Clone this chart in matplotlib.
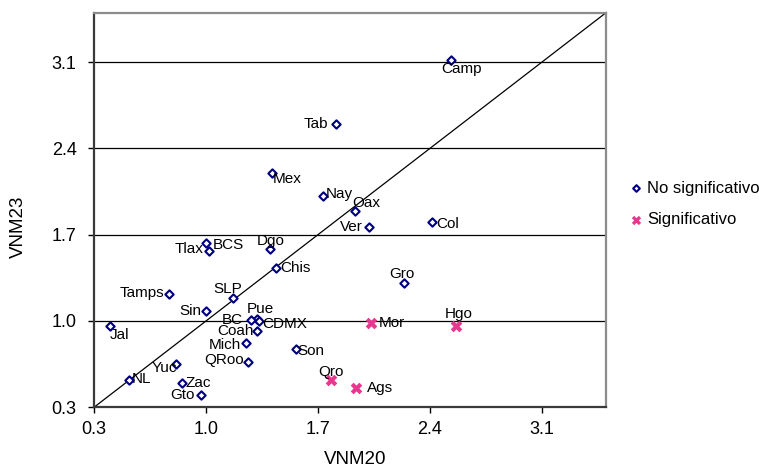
import matplotlib
matplotlib.use("Agg")
import matplotlib.pyplot as plt

plt.rcParams['font.family'] = ['Liberation Sans', 'DejaVu Sans']

# ---- data ----
ns_names = ["Camp", "Tab", "Mex", "Nay", "Oax", "Ver", "Col", "Gro", "Dgo", "Chis",
            "Tlax", "BCS", "Tamps", "SLP", "Sin", "Jal", "Pue", "BC", "CDMX", "Coah",
            "Mich", "QRoo", "Son", "Yuc", "NL", "Zac", "Gto"]
ns_x = [2.53, 1.81, 1.41, 1.73, 1.93, 2.02, 2.41, 2.24, 1.40, 1.44,
        1.02, 1.00, 0.77, 1.17, 1.00, 0.40, 1.32, 1.28, 1.33, 1.32,
        1.25, 1.26, 1.56, 0.81, 0.52, 0.85, 0.97]
ns_y = [3.12, 2.60, 2.20, 2.01, 1.89, 1.76, 1.80, 1.31, 1.58, 1.43,
        1.57, 1.63, 1.22, 1.19, 1.08, 0.96, 1.02, 1.01, 1.00, 0.92,
        0.82, 0.67, 0.77, 0.65, 0.52, 0.50, 0.40]

s_names = ["Mor", "Hgo", "Qro", "Ags"]
s_x = [2.03, 2.56, 1.78, 1.94]
s_y = [0.98, 0.96, 0.52, 0.46]

ticks = [0.3, 1.0, 1.7, 2.4, 3.1]
tick_labels = ["0.3", "1.0", "1.7", "2.4", "3.1"]
series_labels = ["No significativo", "Significativo"]
x_title = "VNM20"
y_title = "VNM23"

# label placement (offset pixels dx, dy, horizontal alignment)
ns_off = {"Camp": (11, -9, "center"), "Tab": (-7, 0, "right"), "Mex": (1, -6, "left"),
          "Nay": (3, 2, "left"), "Oax": (-3, 8, "left"), "Ver": (-6, 0, "right"),
          "Col": (5, -2, "left"), "Gro": (-3, 9, "center"), "Dgo": (1, 8, "center"),
          "Chis": (4, 0, "left"), "Tlax": (-6, 2, "right"), "BCS": (7, -2, "left"),
          "Tamps": (-5, 1, "right"), "SLP": (-5, 9, "center"), "Sin": (-5, 0, "right"),
          "Jal": (0, -9, "left"), "Pue": (3, 10, "center"), "BC": (-8, 0, "right"),
          "CDMX": (3, -3, "left"), "Coah": (-4, 0, "right"), "Mich": (-5, -2, "right"),
          "QRoo": (-4, 2, "right"), "Son": (2, -2, "left"), "Yuc": (2, -4, "right"),
          "NL": (3, 1, "left"), "Zac": (4, 0, "left"), "Gto": (-7, 0, "right")}
s_off = {"Mor": (8, 0, "left"), "Hgo": (3, 12, "center"), "Qro": (0, 8, "center"),
         "Ags": (11, 0, "left")}

LABEL_FS = 11

fig = plt.figure(figsize=(7.59, 4.68), dpi=100)
ax = fig.add_axes([94 / 759, 1 - 407.3 / 468, 512 / 759, 394.6 / 468])

ax.set_xlim(0.3, 3.5)
ax.set_ylim(0.3, 3.5)

for t in ticks[1:]:
    ax.axhline(t, color="black", lw=0.9, zorder=1)
ax.axline((0.3, 0.3), slope=1, color="black", lw=0.9, zorder=1)

ax.scatter(ns_x, ns_y, marker="D", s=18, facecolors="white", edgecolors="#000080",
           linewidths=1.5, zorder=3, label=series_labels[0])
ax.scatter(s_x, s_y, marker="X", s=70, color="#e8378f", linewidths=0,
           zorder=3, label=series_labels[1])

for n, x, y in zip(ns_names, ns_x, ns_y):
    dx, dy, ha = ns_off[n]
    ax.annotate(n, (x, y), xytext=(dx, dy), textcoords="offset pixels",
                ha=ha, va="center", fontsize=LABEL_FS, zorder=4)
for n, x, y in zip(s_names, s_x, s_y):
    dx, dy, ha = s_off[n]
    ax.annotate(n, (x, y), xytext=(dx, dy), textcoords="offset pixels",
                ha=ha, va="center", fontsize=LABEL_FS, zorder=4)

ax.set_xticks(ticks)
ax.set_xticklabels(tick_labels)
ax.set_yticks(ticks)
ax.set_yticklabels(tick_labels)
ax.tick_params(direction="out", length=4, width=1, labelsize=13, colors="black")
ax.tick_params(axis="x", pad=6)
ax.tick_params(axis="y", pad=8.5)

for side in ["left", "bottom"]:
    ax.spines[side].set_color("#3a3a3a")
    ax.spines[side].set_linewidth(1.6)
for side in ["top", "right"]:
    ax.spines[side].set_color("#8c8c8c")
    ax.spines[side].set_linewidth(1.6)

fig.text(355 / 759, 1 - 459 / 468, x_title, fontsize=13.5, ha="center", va="center")
fig.text(18.5 / 759, 1 - 227 / 468, y_title, fontsize=13.5, ha="center", va="center",
         rotation=90)

fig.legend(loc="center left", bbox_to_anchor=(618 / 759, 1 - 204 / 468), frameon=False,
           fontsize=12, handletextpad=0.05, labelspacing=1.0, borderpad=0,
           handlelength=1.2, scatterpoints=1, markerscale=0.8)

fig.savefig("out.png", dpi=100)
